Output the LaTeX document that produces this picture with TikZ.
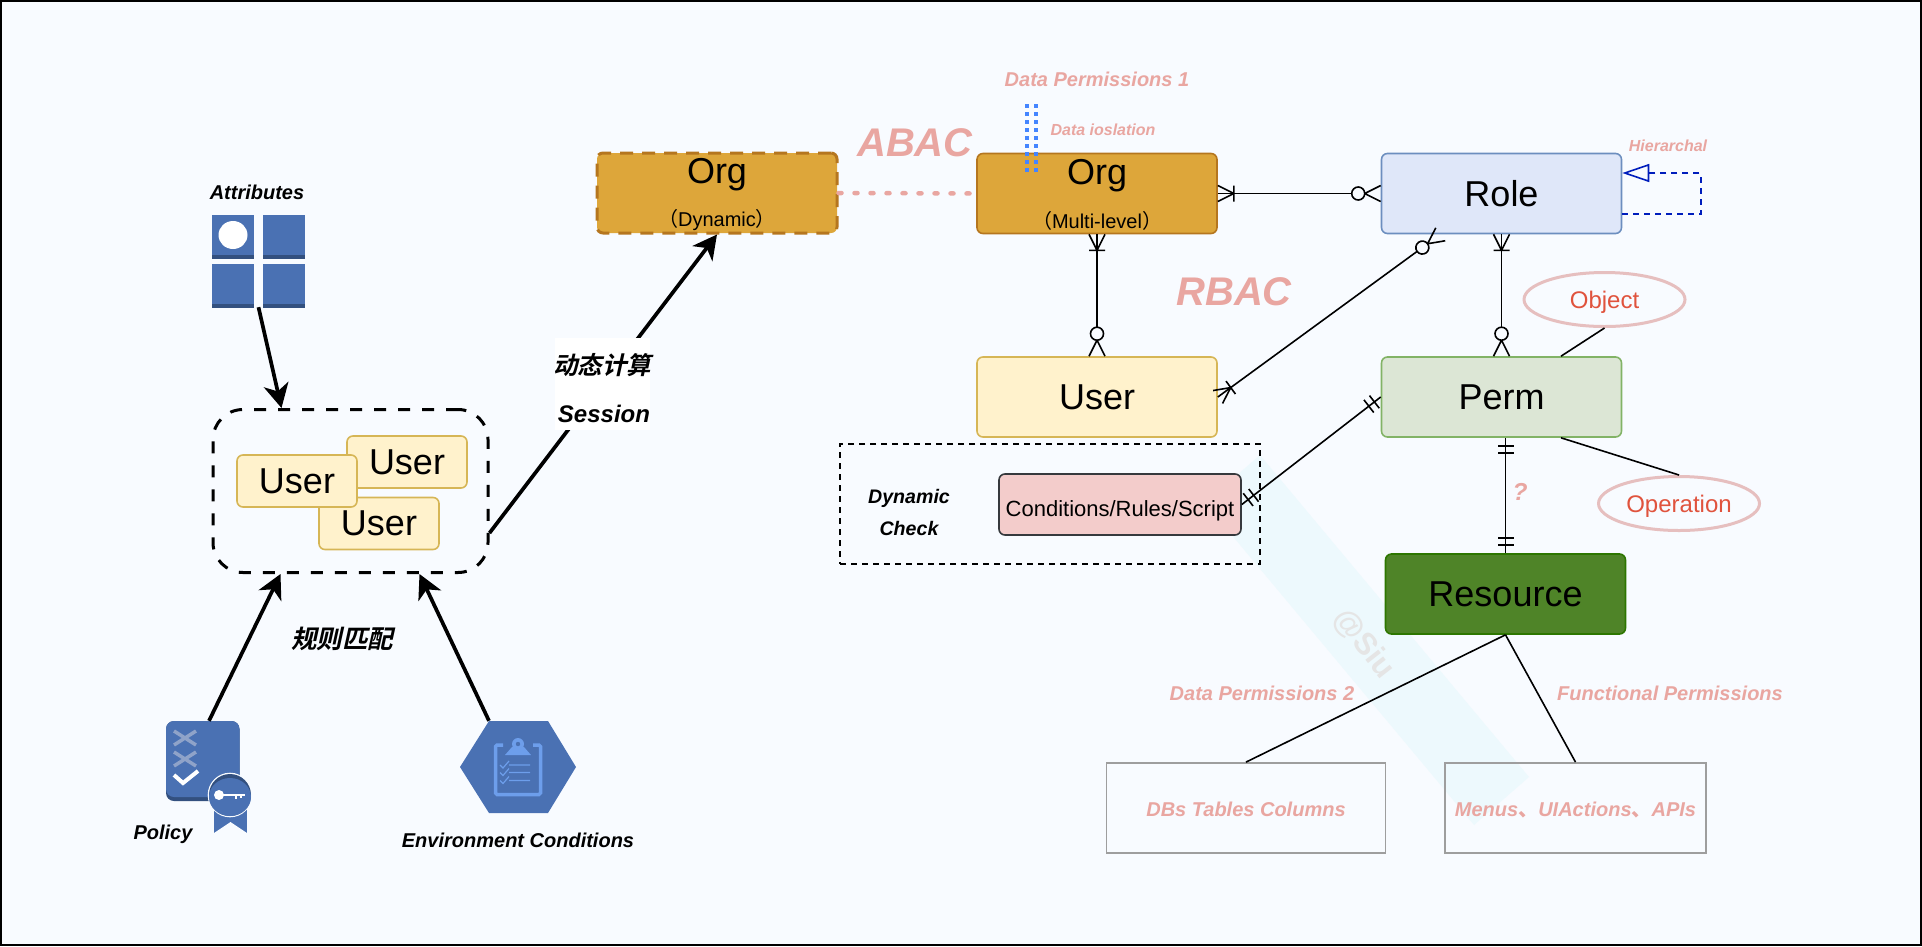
\documentclass[tikz,border=0pt]{standalone}
\usepackage{fontspec}
\setmainfont{Liberation Sans}
\newfontfamily\cjk{Noto Sans CJK SC}
\newfontfamily\cjkbi[FakeSlant=0.22]{Noto Sans CJK SC Bold}
\usetikzlibrary{arrows.meta,shapes.geometric}
\definecolor{bgblue}{HTML}{F8FBFF}
\definecolor{bandblue}{HTML}{EDF9FD}
\definecolor{iconblue}{HTML}{4A71B3}
\definecolor{icondark}{HTML}{33507F}
\definecolor{iconlight}{HTML}{6D9EEB}
\definecolor{iconpale}{HTML}{8FA3C9}
\definecolor{pinktext}{HTML}{E9A6A1}
\definecolor{redtext}{HTML}{E0533D}
\definecolor{ringred}{HTML}{E6BFBF}
\definecolor{orgfill}{HTML}{DDA63A}
\definecolor{orgline}{HTML}{B5761F}
\definecolor{userfill}{HTML}{FFF2CC}
\definecolor{userline}{HTML}{D6B656}
\definecolor{rolefill}{HTML}{DFE7F9}
\definecolor{roleline}{HTML}{6C8EBF}
\definecolor{permfill}{HTML}{DCE6D5}
\definecolor{permline}{HTML}{82B366}
\definecolor{resfill}{HTML}{4F8428}
\definecolor{resline}{HTML}{2D7600}
\definecolor{condfill}{HTML}{F3CCCB}
\definecolor{condline}{HTML}{36393D}
\definecolor{hierblue}{HTML}{001DBC}
\definecolor{dotblue}{HTML}{4485FF}
\newcommand{\fs}[1]{\fontsize{#1}{#1}\selectfont}
\tikzset{
  box/.style={draw,rounded corners=6pt,line width=1.6pt,inner sep=0pt,minimum width=240pt,minimum height=80pt,font=\fs{36}},
  smallbox/.style={box,minimum width=120pt,minimum height=52pt,fill=userfill,draw=userline},
  tagbox/.style={draw=black!38,line width=1.8pt,inner sep=0pt,minimum height=90pt,pinklabel,text height=21.5pt,text depth=4pt},
  ring/.style={ellipse,draw=ringred,line width=3pt,inner sep=0pt,minimum width=161pt,minimum height=54pt,text=redtext,font=\fs{24},text height=22pt,text depth=5pt},
  blacklabel/.style={inner sep=0pt,font=\fs{20}\bfseries\itshape},
  pinklabel/.style={blacklabel,text=pinktext},
  fat/.style={line width=3.7pt,-{Stealth[length=24pt,width=25pt,inset=7pt]}},
  rel/.style={line width=1.6pt},
  erstart/.style={pos=0,sloped,allow upside down},
  erend/.style={pos=1,sloped,allow upside down,xscale=-1},
  onemany/.pic={\draw[line width=1.6pt,shorten >=0pt] (0,-8)--(16,0)--(0,8) (16,-8)--(16,8);},
  zeromany/.pic={\draw[line width=1.6pt,shorten >=0pt] (0,-8)--(16,0)--(0,8);
    \draw[line width=1.6pt,fill=bgblue] (22.5,0) circle (6.5);},
  twobars/.pic={\draw[line width=1.6pt] (8,-8)--(8,8) (15,-8)--(15,8);}
}
\begin{document}
\begin{tikzpicture}[x=1pt,y=-1pt]
\useasboundingbox (0,0) rectangle (1922,946);
\draw[fill=bgblue,line width=2pt] (1,1) rectangle (1921,945);

% watermark
\fill[bandblue] (1260,455)--(1529,777)--(1474,825)--(1205,503)--cycle;
\node[font=\fs{31}\bfseries,text=black!10,rotate=-52,inner sep=0pt] (mark) at (1364,644) {@Siu};

% attributes icon
\node[minimum width=93pt,minimum height=92pt,inner sep=0pt] (attrs) at (258.5,261) {};
\foreach \px/\py in {212/215,263/215,212/264,263/264}{
  \fill[iconblue] (\px,\py) rectangle ++(42,44);
  \fill[icondark] (\px,\py+40) rectangle ++(42,4);
}
\fill[white] (233,235) ellipse (14.5 and 14);
\node[blacklabel] (attrslabel) at (257,192) {Attributes};

% policy icon
\node[minimum width=74pt,minimum height=80pt,inner sep=0pt] (policy) at (203,761) {};
\fill[icondark,rounded corners=8pt] (166,721) rectangle (239.5,801);
\fill[iconblue,rounded corners=8pt] (166,721) rectangle (239.5,797);
\draw[iconpale,line width=3.5pt] (174,731)--(196,745) (196,731)--(174,745)
  (174,752)--(196,766) (196,752)--(174,766);
\draw[white,line width=4pt] (174,775)--(183,783)--(198,771);
\fill[iconblue] (214,800) rectangle (247,833);
\fill[bgblue] (214,833)--(230.5,822)--(247,833)--cycle;
\fill[bgblue] (230,795) circle (22.3);
\fill[icondark] (230,795) circle (21);
\fill[iconblue] (230,797) ellipse (21 and 19);
\fill[white] (219,795) circle (5);
\draw[white,line width=2.5pt] (222,795)--(245,795) (236,795)--(236,799) (241,795)--(241,798);
\node[blacklabel] (policylabel) at (163,834) {Policy};

% environment icon
\node[minimum width=116pt,minimum height=92pt,inner sep=0pt] (env) at (518,767) {};
\fill[iconblue] (460,767)--(489,721)--(548,721)--(576,767)--(548,813)--(489,813)--cycle;
\draw[iconlight,line width=3.5pt,rounded corners=1.5pt] (503,745) -- (495.5,745) -- (495.5,794.5) -- (540.5,794.5) -- (540.5,745) -- (533,745);
\fill[iconlight] (518,744) circle (6);
\fill[iconlight] (505,755)--(512,747)--(524,747)--(531,755)--cycle;
\fill[iconblue] (518,744) circle (2.2);
\foreach \ly in {765,772.5,780.5}{
  \draw[iconlight,line width=1.2pt] (500,\ly)--(503,\ly+3)--(509,\ly-4) (509,\ly)--(530,\ly);
}
\node[blacklabel] (envlabel) at (518,840) {Environment Conditions};

% users group
\node[draw,dashed,dash pattern=on 12pt off 12pt,line width=3pt,rounded corners=30pt,minimum width=275pt,minimum height=163pt,inner sep=0pt] (group) at (350.5,491) {};
\node[smallbox] (user1) at (407,462) {User};
\node[smallbox] (user3) at (379,523.5) {User};
\node[smallbox] (user2) at (297,481) {User};

\draw[fat] (attrs.south) -- ([xshift=-69pt]group.north);
\draw[fat] ([xshift=6pt]policy.north) -- ([xshift=-70pt]group.south);
\draw[fat] ([xshift=-29pt]env.north) -- ([xshift=69pt]group.south);
\node[blacklabel,font=\cjkbi\fs{25.5}] (matchlabel) at (342,639) {规则匹配};

% dynamic org
\node[box,fill=orgfill,draw=orgline,dashed,dash pattern=on 13pt off 9pt,line width=3pt] (orgd) at (717,193) {};
\node[inner sep=0pt,font=\fs{36}] (orgdname) at ([yshift=18pt]orgd.center) {Org};
\node[inner sep=0pt,font=\fs{20}] (orgdnote) at ([yshift=-27pt]orgd.center) {{\cjk（}Dynamic{\cjk）}};
\draw[fat] ([yshift=-42pt]group.east) -- (orgd.south);
\node[fill=white,inner sep=0pt,minimum width=95pt,minimum height=92pt] (calc) at (602.5,383.5) {};
\node[blacklabel,font=\cjkbi\fs{24.5}] (calctext) at (602,365) {动态计算};
\node[blacklabel,font=\fs{24}\bfseries\itshape] (session) at (604,414) {Session};

\node[box,fill=orgfill,draw=orgline] (org) at (1097,193.5) {};
\node[inner sep=0pt,font=\fs{36}] (orgname) at ([yshift=18pt]org.center) {Org};
\node[inner sep=0pt,font=\fs{20}] (orgnote) at ([yshift=-27pt]org.center) {{\cjk（}Multi-level{\cjk）}};
\node[box,fill=rolefill,draw=roleline] (role) at (1501.5,193.5) {Role};
\node[box,fill=userfill,draw=userline] (user) at (1097,397) {User};
\node[box,fill=permfill,draw=permline] (perm) at (1501.5,397) {Perm};
\node[box,fill=resfill,draw=resline] (resource) at (1505.5,594) {Resource};

% dynamic check
\node[draw,dashed,dash pattern=on 6pt off 5pt,line width=1.6pt,minimum width=420pt,minimum height=120pt,inner sep=0pt] (check) at (1050,504) {};
\node[box,fill=condfill,draw=condline,minimum width=242pt,minimum height=61pt,font=\fs{22},text height=28pt,text depth=5pt] (cond) at (1120,504.5) {Conditions/Rules/Script};
\node[blacklabel,font=\fs{19.6}\bfseries\itshape] (checka) at (909,498) {Dynamic};
\node[blacklabel,font=\fs{19.6}\bfseries\itshape] (checkb) at (909,528) {Check};

% data isolation marks
\coordinate (dotsa) at (1027,104);
\coordinate (dotsb) at (1036,104);
\draw[dotblue,line width=4pt,dash pattern=on 4pt off 4pt] (dotsa) -- ++(0,69);
\draw[dotblue,line width=4pt,dash pattern=on 4pt off 4pt] (dotsb) -- ++(0,69);
\draw[pinktext,line width=4.5pt,line cap=round,dash pattern=on 3pt off 13pt] (orgd.east) -- (org.west);

% relations
\draw[rel,shorten >=16pt] (org.east) -- (role.west) pic[erstart]{onemany} pic[erend]{zeromany};
\draw[rel,shorten >=16pt] (org.south) -- (user.north) pic[erstart]{onemany} pic[erend]{zeromany};
\draw[rel,shorten >=16pt] (role.south) -- (perm.north) pic[erstart]{onemany} pic[erend]{zeromany};
\draw[rel,shorten >=16pt] (user.east) -- ([xshift=-61pt]role.south) pic[erstart]{onemany} pic[erend]{zeromany};
\draw[rel] (cond.east) -- (perm.west) pic[erstart]{twobars} pic[erend]{twobars};
\draw[rel] (resource.north |- perm.south) -- (resource.north) pic[erstart]{twobars} pic[erend]{twobars};
\draw[hierblue,line width=1.6pt,dashed,dash pattern=on 6pt off 5pt,-{Triangle[open,length=27pt,width=18pt]}] ([yshift=-20.5pt]role.east) -- ++(78.5,0) -- ++(0,-41) -- ([yshift=20.5pt]role.east);

\node[ring] (object) at (1604.5,299.5) {Object};
\node[ring] (operation) at (1679,503.5) {Operation};
\draw[rel] ([xshift=59.5pt]perm.north) -- (object.south);
\draw[rel] ([xshift=59.5pt]perm.south) -- (operation.north);

\node[tagbox,minimum width=279pt] (dbs) at (1246,808) {DBs Tables Columns};
\node[tagbox,minimum width=261pt] (menus) at (1575.5,808) {Menus{\cjk、}UIActions{\cjk、}APIs};
\draw[rel] (resource.south) -- (dbs.north);
\draw[rel] (resource.south) -- (menus.north);

% pink labels
\node[pinklabel] (perma) at (1097,79) {Data Permissions 1};
\node[pinklabel,font=\fs{16}\bfseries\itshape] (iso) at (1103,130) {Data ioslation};
\node[pinklabel,font=\fs{40}\bfseries\itshape] (abac) at (915,143) {ABAC};
\node[pinklabel,font=\fs{40}\bfseries\itshape] (rbac) at (1234,292) {RBAC};
\node[pinklabel,font=\fs{16}\bfseries\itshape] (hier) at (1668,146) {Hierarchal};
\node[pinklabel,font=\fs{24.5}\bfseries\itshape] (quest) at (1520,492) {?};
\node[pinklabel] (permb) at (1262,693) {Data Permissions 2};
\node[pinklabel] (permc) at (1670,693) {Functional Permissions};
\end{tikzpicture}
\end{document}
